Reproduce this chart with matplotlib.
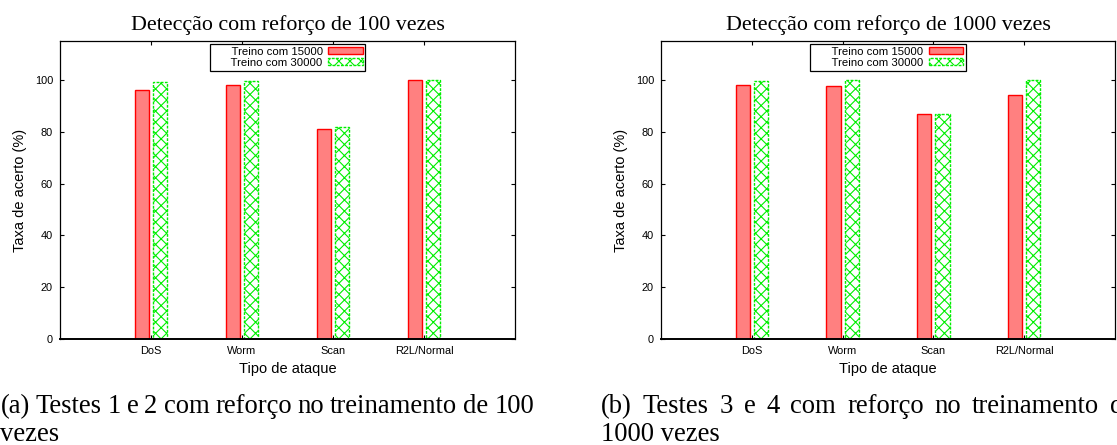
import matplotlib
matplotlib.use("Agg")
import matplotlib.pyplot as plt
import numpy as np

categories = ["DoS", "Worm", "Scan", "R2L/Normal"]
reforco100_15000 = [95.9, 98.1, 81.1, 100.0]
reforco100_30000 = [99.0, 99.3, 81.8, 100.0]
reforco1000_15000 = [97.8, 97.7, 86.9, 94.1]
reforco1000_30000 = [99.3, 100.0, 86.9, 100.0]
yticks = [0, 20, 40, 60, 80, 100]
titles = ["Detecção com reforço de 100 vezes", "Detecção com reforço de 1000 vezes"]
series_labels = ["Treino com 15000", "Treino com 30000"]
captions = [
    ("(a) Testes 1 e 2 com reforço no treinamento de 100", "vezes"),
    ("(b) Testes 3 e 4 com reforço no treinamento de", "1000 vezes"),
]

plt.rcParams["font.family"] = ["Liberation Sans", "DejaVu Sans"]
plt.rcParams["hatch.linewidth"] = 0.8
serif = ["Liberation Serif", "DejaVu Serif"]

W, H = 1117, 445
fig = plt.figure(figsize=(W / 100, H / 100), dpi=100)


def draw_panel(left_px, width_px, title, vals_a, vals_b):
    top, bottom = 40.7, 339.3
    ax = fig.add_axes([left_px / W, 1 - bottom / H, width_px / W, (bottom - top) / H])
    x = np.arange(len(categories))
    ax.bar(x - 0.1, vals_a, 0.155, color="#ff8080", edgecolor="red",
           linewidth=1.0, label="      " + series_labels[0])
    ax.bar(x + 0.1, vals_b, 0.155, color="white", edgecolor="#00ee00",
           hatch="xxx", linestyle=(0, (2, 1)), linewidth=1.0,
           label="      " + series_labels[1])
    ax.set_xlim(-1, 4)
    ax.set_ylim(0, 115)
    ax.set_xticks(x)
    ax.set_xticklabels(categories)
    ax.set_yticks(yticks)
    ax.tick_params(direction="in", top=True, right=True, length=3,
                   width=0.8, labelsize=7.9, pad=5, colors="black")
    for s in ax.spines.values():
        s.set_linewidth(0.9)
    ax.spines["bottom"].set_linewidth(1.4)
    ax.set_title(title, fontfamily=serif, fontsize=15.8, pad=8)
    ax.text(0.5, -(369 - bottom) / (bottom - top), "Tipo de ataque",
            transform=ax.transAxes, ha="center", va="center", fontsize=10.5)
    fig.text((left_px - 40) / W, 1 - 190 / H, "Taxa de acerto (%)",
             rotation=90, ha="center", va="center", fontsize=10.5)
    leg = ax.legend(loc="upper center", bbox_to_anchor=(0.5, 1 - 3 / (bottom - top)),
                    markerfirst=False, fancybox=False, framealpha=1,
                    edgecolor="black", fontsize=8.2, handlelength=3.0,
                    handleheight=0.5, handletextpad=0.5, borderpad=0.25,
                    labelspacing=0.1, borderaxespad=0)
    leg.get_frame().set_linewidth(0.9)
    return ax


draw_panel(60, 455, titles[0], reforco100_15000, reforco100_30000)
draw_panel(661, 454, titles[1], reforco1000_15000, reforco1000_30000)


def justify(line, x0, x1, y_px):
    words = line.split(" ")
    texts = [fig.text(0, 1 - y_px / H, w, fontfamily=serif, fontsize=19.2,
                      ha="left", va="baseline") for w in words]
    fig.canvas.draw()
    r = fig.canvas.get_renderer()
    widths = [t.get_window_extent(r).width for t in texts]
    gap = (x1 - x0 - sum(widths)) / (len(words) - 1)
    xpos = x0
    for t, w in zip(texts, widths):
        t.set_x(xpos / W)
        xpos += w + gap


justify(captions[0][0], 0.5, 534, 413)
fig.text(0.5 / W, 1 - 441 / H, captions[0][1], fontfamily=serif, fontsize=19.2,
         ha="left", va="baseline")
justify(captions[1][0], 601, 1135, 413)
fig.text(601 / W, 1 - 441 / H, captions[1][1], fontfamily=serif, fontsize=19.2,
         ha="left", va="baseline")

fig.savefig("out.png", dpi=100)
